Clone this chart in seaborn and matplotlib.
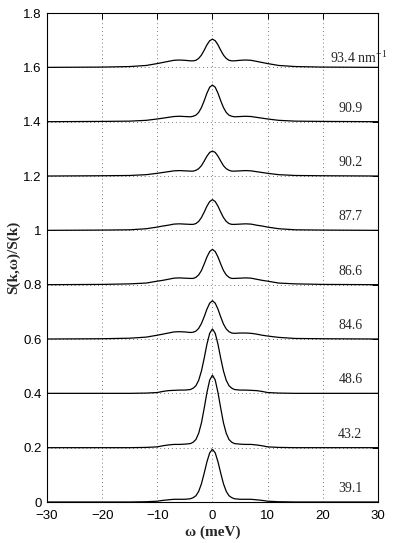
import matplotlib
matplotlib.use("Agg")
import matplotlib.pyplot as plt
import seaborn as sns
import numpy as np
from matplotlib.ticker import FuncFormatter

# ---- data ----
omega = [-30, -20, -15, -12, -10, -9, -8, -7, -6, -5, -4, -3.5, -3, -2.5, -2, -1.5, -1, -0.5,
         0, 0.5, 1, 1.5, 2, 2.5, 3, 3.5, 4, 5, 6, 7, 8, 9, 10, 12, 15, 20, 30]

s_39_1 = [0, 0, 0, 0.001, 0.003, 0.006, 0.008, 0.010, 0.010, 0.010, 0.012, 0.016, 0.023, 0.039, 0.067, 0.106, 0.148, 0.181,
          0.194, 0.181, 0.148, 0.106, 0.067, 0.039, 0.023, 0.016, 0.012, 0.010, 0.010, 0.010, 0.008, 0.006, 0.003, 0.001, 0, 0, 0]
s_43_2 = [0, 0, 0, 0.001, 0.003, 0.007, 0.010, 0.012, 0.012, 0.013, 0.015, 0.020, 0.030, 0.053, 0.091, 0.145, 0.203, 0.249,
          0.267, 0.249, 0.203, 0.145, 0.091, 0.053, 0.030, 0.020, 0.015, 0.013, 0.012, 0.012, 0.010, 0.007, 0.003, 0.001, 0, 0, 0]
s_48_6 = [0, 0, 0, 0.001, 0.003, 0.007, 0.010, 0.011, 0.012, 0.012, 0.014, 0.019, 0.028, 0.048, 0.082, 0.129, 0.181, 0.221,
          0.237, 0.221, 0.181, 0.129, 0.082, 0.048, 0.028, 0.019, 0.014, 0.012, 0.012, 0.011, 0.010, 0.007, 0.003, 0.001, 0, 0, 0]
s_84_6 = [0, 0.001, 0.003, 0.007, 0.014, 0.018, 0.022, 0.026, 0.027, 0.026, 0.024, 0.025, 0.029, 0.039, 0.057, 0.082, 0.110, 0.132,
          0.141, 0.132, 0.110, 0.081, 0.055, 0.037, 0.027, 0.022, 0.021, 0.022, 0.022, 0.021, 0.018, 0.014, 0.011, 0.006, 0.002, 0.001, 0]
s_86_6 = [0, 0.001, 0.003, 0.006, 0.013, 0.016, 0.020, 0.024, 0.025, 0.024, 0.023, 0.023, 0.027, 0.036, 0.052, 0.076, 0.102, 0.122,
          0.130, 0.122, 0.102, 0.076, 0.052, 0.036, 0.027, 0.023, 0.023, 0.024, 0.025, 0.024, 0.020, 0.016, 0.013, 0.006, 0.003, 0.001, 0]
s_87_7 = [0, 0.001, 0.002, 0.006, 0.012, 0.016, 0.019, 0.023, 0.024, 0.023, 0.022, 0.022, 0.025, 0.033, 0.047, 0.067, 0.089, 0.106,
          0.113, 0.106, 0.089, 0.067, 0.047, 0.033, 0.025, 0.022, 0.022, 0.023, 0.024, 0.023, 0.019, 0.016, 0.012, 0.006, 0.002, 0.001, 0]
s_90_2 = [0, 0.001, 0.002, 0.005, 0.010, 0.013, 0.016, 0.019, 0.020, 0.019, 0.018, 0.018, 0.021, 0.027, 0.038, 0.055, 0.073, 0.087,
          0.092, 0.087, 0.073, 0.055, 0.038, 0.027, 0.021, 0.018, 0.018, 0.019, 0.020, 0.019, 0.016, 0.013, 0.010, 0.005, 0.002, 0.001, 0]
s_90_9 = [0, 0.001, 0.002, 0.005, 0.010, 0.013, 0.016, 0.019, 0.020, 0.019, 0.018, 0.020, 0.024, 0.034, 0.052, 0.077, 0.105, 0.127,
          0.135, 0.127, 0.105, 0.077, 0.052, 0.034, 0.024, 0.020, 0.018, 0.019, 0.020, 0.019, 0.016, 0.013, 0.010, 0.005, 0.002, 0.001, 0]
s_93_4 = [0, 0.001, 0.003, 0.007, 0.014, 0.018, 0.022, 0.026, 0.027, 0.026, 0.024, 0.024, 0.026, 0.033, 0.045, 0.063, 0.083, 0.098,
          0.104, 0.098, 0.083, 0.063, 0.045, 0.033, 0.026, 0.024, 0.024, 0.026, 0.027, 0.026, 0.022, 0.018, 0.014, 0.007, 0.003, 0.001, 0]

curves = [s_39_1, s_43_2, s_48_6, s_84_6, s_86_6, s_87_7, s_90_2, s_90_9, s_93_4]
offsets = [0.0, 0.2, 0.4, 0.6, 0.8, 1.0, 1.2, 1.4, 1.6]
curve_labels = ["39.1", "43.2", "48.6", "84.6", "86.6", "87.7", "90.2", "90.9", "93.4 nm$^{-1}$"]

x_ticks = [-30, -20, -10, 0, 10, 20, 30]
y_ticks = [0, 0.2, 0.4, 0.6, 0.8, 1.0, 1.2, 1.4, 1.6, 1.8]

# ---- style ----
sns.set_theme(style="white")
plt.rcParams["font.family"] = ["Liberation Sans", "DejaVu Sans"]
plt.rcParams["mathtext.fontset"] = "custom"
plt.rcParams["mathtext.rm"] = "Liberation Serif"
plt.rcParams["mathtext.it"] = "Liberation Serif:italic"
plt.rcParams["mathtext.bf"] = "Liberation Serif:bold"

fig = plt.figure(figsize=(3.93, 5.43), dpi=100)
ax = fig.add_axes([0.1196, 0.0755, 0.842, 0.9005])

for vals, off in zip(curves, offsets):
    y = [v + off for v in vals]
    sns.lineplot(x=omega, y=y, color="black", linewidth=0.9, ax=ax, legend=False)

ax.set_xlim(-30, 30)
ax.set_ylim(0, 1.8)
ax.set_xticks(x_ticks)
ax.set_yticks(y_ticks)
ax.yaxis.set_major_formatter(FuncFormatter(lambda v, p: f"{v:g}"))

ax.grid(True, linestyle=(0, (1, 3)), color="#777777", linewidth=0.7)
ax.set_axisbelow(True)

for sp in ax.spines.values():
    sp.set_visible(True)
    sp.set_color("black")
    sp.set_linewidth(0.8)

ax.tick_params(direction="in", length=4, width=0.7, top=True, right=True,
               labelsize=9.5, colors="black", pad=4)
ax.tick_params(axis="x", pad=5.5)

serif = ["Liberation Serif", "DejaVu Serif"]
for off, lab in zip(offsets, curve_labels):
    if lab.startswith("93.4"):
        ax.text(21.3, off + 0.035, lab, ha="left", va="center", fontsize=10, family=serif)
    else:
        ax.text(25.0, off + 0.05, lab, ha="center", va="center", fontsize=10, family=serif)

ax.set_xlabel("ω (meV)", fontsize=11, fontweight="bold", family=serif, labelpad=3)
ax.set_ylabel("S(k,ω)/S(k)", fontsize=11, fontweight="bold", family=serif, labelpad=2)

fig.savefig("out.png", dpi=100)
